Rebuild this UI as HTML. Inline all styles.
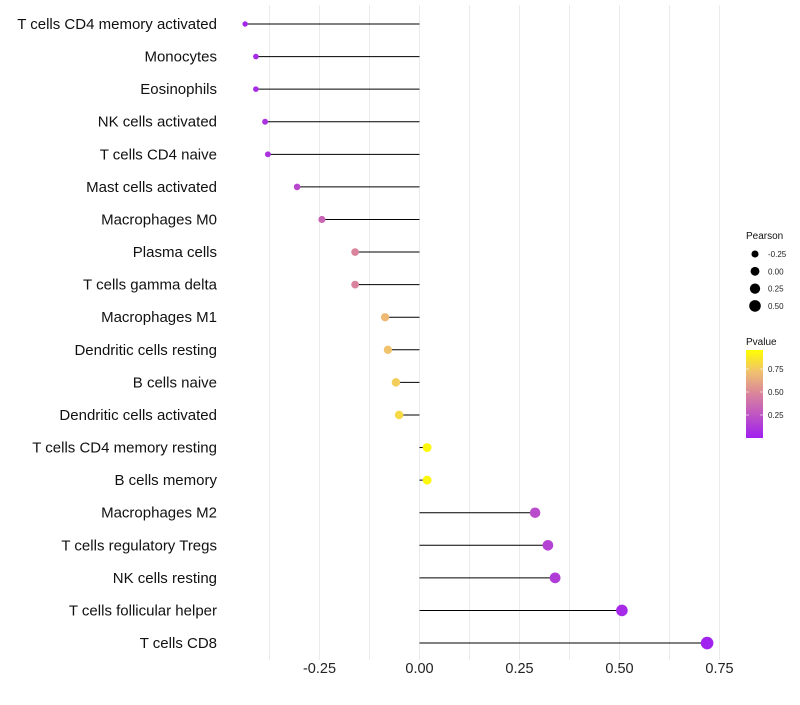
<!DOCTYPE html>
<html><head><meta charset="utf-8"><style>
body{margin:0;background:#fff;font-family:"Liberation Sans",sans-serif}
</style></head><body>
<svg id="c" width="800" height="700" xmlns="http://www.w3.org/2000/svg">
<defs><linearGradient id="pg" x1="0" y1="1" x2="0" y2="0">
<stop offset="0" stop-color="#a020f0"/><stop offset="0.5" stop-color="#d9849c"/><stop offset="0.75" stop-color="#f0c070"/><stop offset="1" stop-color="#ffff00"/></linearGradient></defs>
</svg>
<script>
const categories=["T cells CD4 memory activated","Monocytes","Eosinophils","NK cells activated","T cells CD4 naive","Mast cells activated","Macrophages M0","Plasma cells","T cells gamma delta","Macrophages M1","Dendritic cells resting","B cells naive","Dendritic cells activated","T cells CD4 memory resting","B cells memory","Macrophages M2","T cells regulatory  Tregs","NK cells resting","T cells follicular helper","T cells CD8"];
const pearson=[-0.436,-0.409,-0.409,-0.386,-0.379,-0.306,-0.244,-0.161,-0.161,-0.086,-0.079,-0.059,-0.051,0.019,0.019,0.289,0.321,0.339,0.506,0.719];
const pvalue=[0.03,0.06,0.06,0.09,0.09,0.2,0.35,0.5,0.5,0.72,0.76,0.8,0.85,0.97,0.97,0.22,0.17,0.14,0.05,0.01];
const xTicks=[-0.25,0,0.25,0.5,0.75];
const xTickLabels=["-0.25","0.00","0.25","0.50","0.75"];
const sizeLegend=[-0.25,0,0.25,0.5];
const sizeLegendLabels=["-0.25","0.00","0.25","0.50"];
const pTicks=[0.25,0.5,0.75];
const pTickLabels=["0.25","0.50","0.75"];
const NS="http://www.w3.org/2000/svg",svg=document.getElementById('c');
const X=v=>419.5+v*400, Y=i=>24+i*32.58;
const R=v=>Math.sqrt(Math.max(2.5,19.5+28*v));
function col(p){const st=[[0,[160,32,240]],[0.5,[217,132,156]],[0.75,[240,192,112]],[1,[255,255,0]]];
for(let k=1;k<st.length;k++){if(p<=st[k][0]){const a=st[k-1],b=st[k],t=(p-a[0])/(b[0]-a[0]);return 'rgb('+a[1].map((c,j)=>Math.round(c+(b[1][j]-c)*t)).join(',')+')';}}return 'rgb(255,255,0)';}
function el(t,a,txt){const e=document.createElementNS(NS,t);for(const k in a)e.setAttribute(k,a[k]);if(txt!==undefined)e.textContent=txt;svg.appendChild(e);return e;}
for(let v=-0.375;v<=0.75;v+=0.125){const g=el('line',{x1:X(v),x2:X(v),y1:5,y2:660,stroke:'#ebebeb','stroke-width':1});

}
xTicks.forEach((v,i)=>{const t=el('text',{x:X(v),y:673,'text-anchor':'middle','font-size':14.5,fill:'#222'},xTickLabels[i]);

});
categories.forEach((c,i)=>{const y=Y(i);
const t=el('text',{x:217,y:y+5,'text-anchor':'end','font-size':15,fill:'#111'},c);


const l=el('line',{x1:X(0),x2:X(pearson[i]),y1:y,y2:y,stroke:'#000','stroke-width':1});


const d=el('circle',{cx:X(pearson[i]),cy:y,r:R(pearson[i]),fill:col(pvalue[i])});

});
let t=el('text',{x:746,y:239,'font-size':10,fill:'#111'},'Pearson');


sizeLegend.forEach((v,i)=>{const y=254+i*17.3;
const c=el('circle',{cx:755,cy:y,r:R(v),fill:'#000'});


const tt=el('text',{x:768,y:y+3,'font-size':8,fill:'#222'},sizeLegendLabels[i]);

});
t=el('text',{x:746,y:345,'font-size':10,fill:'#111'},'Pvalue');


const PY=p=>438-p*92;
const bar=el('rect',{x:746,y:350,width:17,height:88,fill:'url(#pg)'});


pTicks.forEach((p,i)=>{const y=PY(p);
el('line',{x1:746,x2:749,y1:y,y2:y,stroke:'#fff','stroke-opacity':0.6});
el('line',{x1:760,x2:763,y1:y,y2:y,stroke:'#fff','stroke-opacity':0.6});
const tt=el('text',{x:768,y:y+3,'font-size':8,fill:'#222'},pTickLabels[i]);

});
</script>
</body></html>
